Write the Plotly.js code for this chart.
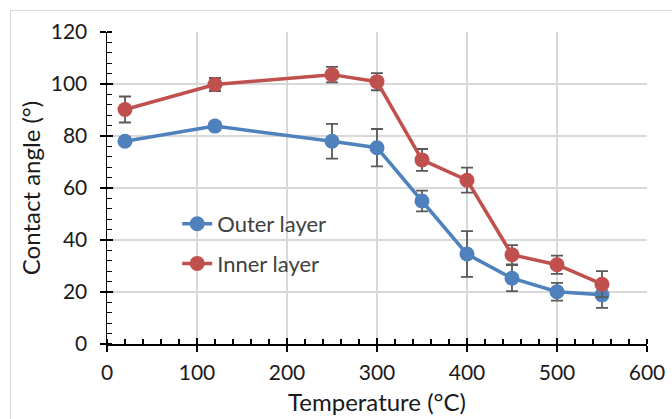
<!DOCTYPE html>
<html><head><meta charset="utf-8">
<script src="https://cdn.plot.ly/plotly-3.0.1.min.js"></script>
<style>
html,body{margin:0;padding:0;background:#fff;overflow:hidden;}
#frame{position:absolute;left:10px;top:10px;width:700px;height:450px;border:1px solid #d9d9d9;box-sizing:border-box;}
#chart{position:absolute;left:0;top:0;width:672px;height:419px;}
</style></head>
<body><div id="frame"></div><div id="chart"></div>
<script>
const temperature = [20, 120, 250, 300, 350, 400, 450, 500, 550];
const outerLayer = [78, 83.8, 78, 75.5, 55, 34.6, 25.3, 20.1, 18.9];
const outerErr = [1.5, 1.5, 6.7, 7.2, 4, 8.8, 5, 3.4, 5];
const innerLayer = [90.2, 99.8, 103.6, 100.9, 70.8, 63, 34.3, 30.5, 23];
const innerErr = [5, 2.5, 3, 3.3, 4.2, 4.8, 3.7, 3.5, 5];
const seriesNames = ['Outer layer', 'Inner layer'];
const xTicks = [0, 100, 200, 300, 400, 500, 600];
const yTicks = [0, 20, 40, 60, 80, 100, 120];

const fam = 'Lato, "Open Sans", sans-serif';
const tickFont = {family: fam, size: 21, color: '#1a1a1a'};
const titleFont = {family: fam, size: 24, color: '#1a1a1a'};
function trace(y, err, name, color, group) {
  return {
    x: temperature, y: y, name: name, type: 'scatter', mode: 'lines+markers',
    line: {color: color, width: 3.5},
    marker: {color: color, size: 15},
    error_y: {type: 'data', array: err, visible: true, color: '#595959', thickness: 1.8, width: 6},
    legendgroup: group
  };
}
const data = [
  trace(outerLayer, outerErr, seriesNames[0], '#4F81BD', 'a'),
  trace(innerLayer, innerErr, seriesNames[1], '#C0504D', 'b'),
  {x: [0], y: [0], xaxis: 'x2', yaxis: 'y2', mode: 'markers', marker: {opacity: 0}, showlegend: false, hoverinfo: 'skip'}
];
const axisBase = {
  showline: true, linecolor: '#000', linewidth: 1.5,
  ticks: 'outside', ticklen: 6, tickwidth: 1.5, tickcolor: '#000',
  gridcolor: '#d9d9d9', gridwidth: 1.5, zeroline: false,
  tickfont: tickFont
};
const layout = {
  width: 672, height: 419,
  margin: {l: 107, r: 25, t: 32, b: 75},
  paper_bgcolor: 'rgba(0,0,0,0)', plot_bgcolor: 'rgba(0,0,0,0)',
  font: tickFont,
  showlegend: true,
  legend: {x: 0.13, y: 0.452, xanchor: 'left', yanchor: 'top', bgcolor: 'rgba(0,0,0,0)',
           font: {family: fam, size: 22, color: '#404040'}, tracegroupgap: 8},
  xaxis: Object.assign({}, axisBase, {
    range: [0, 600], tickvals: xTicks, ticktext: xTicks.map(String), ticklabelstandoff: 3,
    minor: {dtick: 20, ticks: 'inside', ticklen: 5, tickwidth: 1.2, tickcolor: '#000', showgrid: false},
    title: {text: 'Temperature (°C)', font: titleFont, standoff: 11}
  }),
  yaxis: Object.assign({}, axisBase, {
    range: [0, 120], tickvals: yTicks, ticktext: yTicks.map(String), ticklabelstandoff: 8,
    minor: {dtick: 4, ticks: 'inside', ticklen: 5, tickwidth: 1.2, tickcolor: '#000', showgrid: false},
    title: {text: 'Contact angle (°)', font: titleFont, standoff: 3}
  }),
  xaxis2: {overlaying: 'x', range: [0, 600], tickvals: xTicks, ticks: 'inside', ticklen: 6, tickwidth: 1.5,
           tickcolor: '#000', showticklabels: false, showgrid: false, zeroline: false, showline: false, side: 'bottom'},
  yaxis2: {overlaying: 'y', range: [0, 120], tickvals: yTicks, ticks: 'inside', ticklen: 6, tickwidth: 1.5,
           tickcolor: '#000', showticklabels: false, showgrid: false, zeroline: false, showline: false, side: 'left'}
};
Plotly.newPlot('chart', data, layout, {displayModeBar: false, staticPlot: true});
</script></body></html>
